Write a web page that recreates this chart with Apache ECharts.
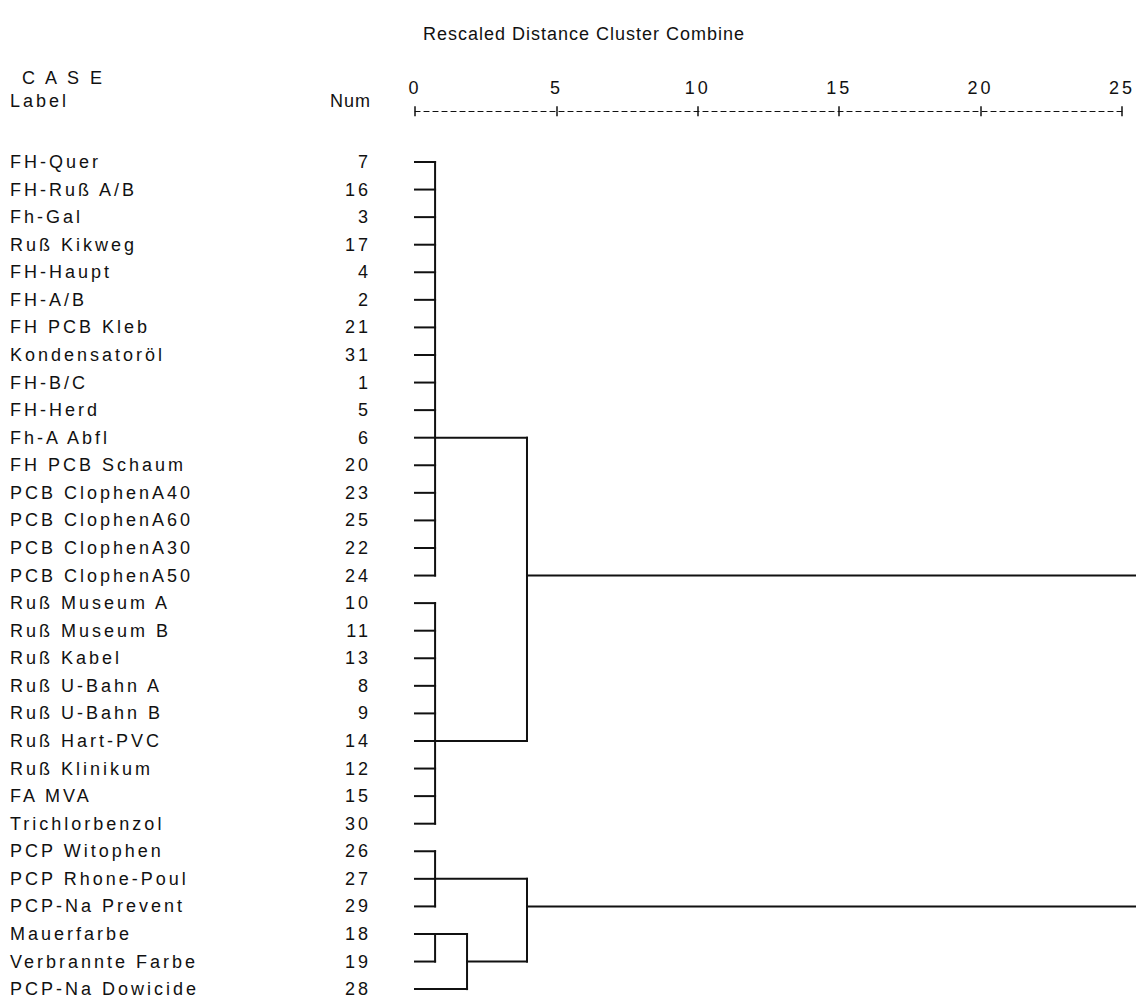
<!DOCTYPE html>
<html>
<head>
<meta charset="utf-8">
<title>Rescaled Distance Cluster Combine</title>
<script src="https://cdn.jsdelivr.net/npm/echarts@6.0.0/dist/echarts.min.js"></script>
<style>
    html, body { margin: 0; padding: 0; background: #fff; }
    #chart { width: 1136px; height: 999px; letter-spacing: 3px; }
</style>
</head>
<body>
<div id="chart"></div>
<script>
// Dendrogram in the style of an SPSS printout (rescaled distances)

// --- Data ---

const caseLabels = [
    'FH-Quer', 'FH-Ruß A/B', 'Fh-Gal', 'Ruß Kikweg', 'FH-Haupt', 'FH-A/B', 'FH PCB Kleb',
    'Kondensatoröl', 'FH-B/C', 'FH-Herd', 'Fh-A Abfl', 'FH PCB Schaum', 'PCB ClophenA40',
    'PCB ClophenA60', 'PCB ClophenA30', 'PCB ClophenA50', 'Ruß Museum A', 'Ruß Museum B',
    'Ruß Kabel', 'Ruß U-Bahn A', 'Ruß U-Bahn B', 'Ruß Hart-PVC', 'Ruß Klinikum', 'FA MVA',
    'Trichlorbenzol', 'PCP Witophen', 'PCP Rhone-Poul', 'PCP-Na Prevent', 'Mauerfarbe',
    'Verbrannte Farbe', 'PCP-Na Dowicide'
];
const caseNums = [7, 16, 3, 17, 4, 2, 21, 31, 1, 5, 6, 20, 23, 25, 22, 24, 10, 11, 13, 8, 9, 14, 12, 15, 30, 26, 27, 29, 18, 19, 28];

const distTicks = [0, 5, 10, 15, 20, 25];

// clusters in merge order; a member is a row number (case) or 'nK' (cluster K)
const clusterMembers = [
    [0, 1, 2, 3, 4, 5, 6, 7, 8, 9, 10, 11, 12, 13, 14, 15],
    [16, 17, 18, 19, 20, 21, 22, 23, 24],
    [25, 26, 27],
    [28, 29],
    ['n3', 30],
    ['n2', 'n4'],
    ['n0', 'n1'],
    ['n6', 'n5']
];
// rescaled distance of each join (last one runs off the right edge, as printed)
const clusterDist = [0.71, 0.71, 0.71, 0.71, 1.84, 3.96, 3.96, 25.6];
// row on which each cluster's link leaves to the right
const clusterLinkRow = [10, 21, 26, 28, 29, 27, 15, 21];

// --- Build segments [x1, row1, x2, row2] ---

const attachPoint = (m) => {
    if (typeof m === 'string') {
        const k = +m.slice(1);
        return [clusterDist[k], clusterLinkRow[k]];
    }
    return [0, m];
};

const segments = [];
clusterMembers.forEach((members, k) => {
    const d = clusterDist[k];
    const rows = members.map((m) => {
        const [x, row] = attachPoint(m);
        segments.push([x, row, d, row]);
        return row;
    });
    segments.push([d, Math.min(...rows), d, Math.max(...rows)]);
});

// --- Chart ---

const FONT = "'Liberation Sans', Arial, sans-serif";
const INK = '#111';
const TITLE = 'Rescaled Distance Cluster Combine';
const nRows = caseLabels.length;

const chart = echarts.init(document.getElementById('chart'), null, { renderer: 'svg' });

// the heading and the column header are set tighter than the case labels
const tightenHeadings = () => {
    document.querySelectorAll('#chart text').forEach((t) => {
        if (t.textContent === TITLE) t.style.letterSpacing = '1px';
        if (t.textContent === 'Num') t.style.letterSpacing = '1px';
    });
};
chart.on('finished', tightenHeadings);

const xBase = {
    type: 'value',
    min: distTicks[0],
    max: distTicks[distTicks.length - 1],
    interval: distTicks[1] - distTicks[0],
    position: 'top',
    offset: 37,
    splitLine: { show: false }
};

chart.setOption({
    animation: false,
    backgroundColor: '#fff',
    title: {
        text: TITLE,
        left: 418,
        top: 20,
        textStyle: { fontFamily: FONT, fontSize: 18, fontWeight: 'normal', color: INK }
    },
    graphic: [
        { type: 'text', left: 22, top: 69, style: { text: 'C A S E', font: `18px ${FONT}`, fill: INK } },
        { type: 'text', left: 10, top: 92, style: { text: 'Label', font: `18px ${FONT}`, fill: INK } },
        { type: 'text', left: 330, top: 92, style: { text: 'Num', font: `18px ${FONT}`, fill: INK } }
    ],
    grid: { left: 415, right: 14, top: 148.2, bottom: -3.9, outerBoundsMode: 'none' },
    xAxis: [
        // dashed ruler with the upper half of each '+'
        Object.assign({}, xBase, {
            axisLine: { onZero: false, lineStyle: { color: INK, width: 1.2, type: [5, 4] } },
            axisTick: { show: true, length: 5, lineStyle: { color: INK, width: 1.5 } },
            axisLabel: { fontFamily: FONT, fontSize: 18, color: INK, margin: 14 }
        }),
        // lower half of each '+'
        Object.assign({}, xBase, {
            axisLine: { show: false, onZero: false },
            axisTick: { show: true, inside: true, length: 5, lineStyle: { color: INK, width: 1.5 } },
            axisLabel: { show: false }
        })
    ],
    yAxis: [
        {
            type: 'value', inverse: true, min: -0.5, max: nRows - 0.5, show: false
        },
        {
            type: 'category', inverse: true, position: 'left', data: caseLabels,
            axisLine: { show: false }, axisTick: { show: false }, splitLine: { show: false },
            axisLabel: { align: 'left', margin: 405, fontFamily: FONT, fontSize: 18, color: INK, padding: [6, 0, 0, 0] }
        },
        {
            type: 'category', inverse: true, position: 'left', data: caseNums,
            axisLine: { show: false }, axisTick: { show: false }, splitLine: { show: false },
            axisLabel: { align: 'right', margin: 44, fontFamily: FONT, fontSize: 18, color: INK, padding: [6, 0, 0, 0] }
        }
    ],
    series: [{
        type: 'custom',
        xAxisIndex: 0,
        yAxisIndex: 0,
        data: segments,
        encode: { x: [0, 2], y: [1, 3] },
        clip: false,
        silent: true,
        renderItem: (params, api) => {
            const p1 = api.coord([api.value(0), api.value(1)]);
            const p2 = api.coord([api.value(2), api.value(3)]);
            return {
                type: 'line',
                shape: { x1: p1[0], y1: p1[1], x2: p2[0], y2: p2[1] },
                style: { stroke: INK, lineWidth: 2, lineCap: 'square' }
            };
        }
    }]
});

tightenHeadings();
setTimeout(tightenHeadings, 0);
</script>
</body>
</html>
